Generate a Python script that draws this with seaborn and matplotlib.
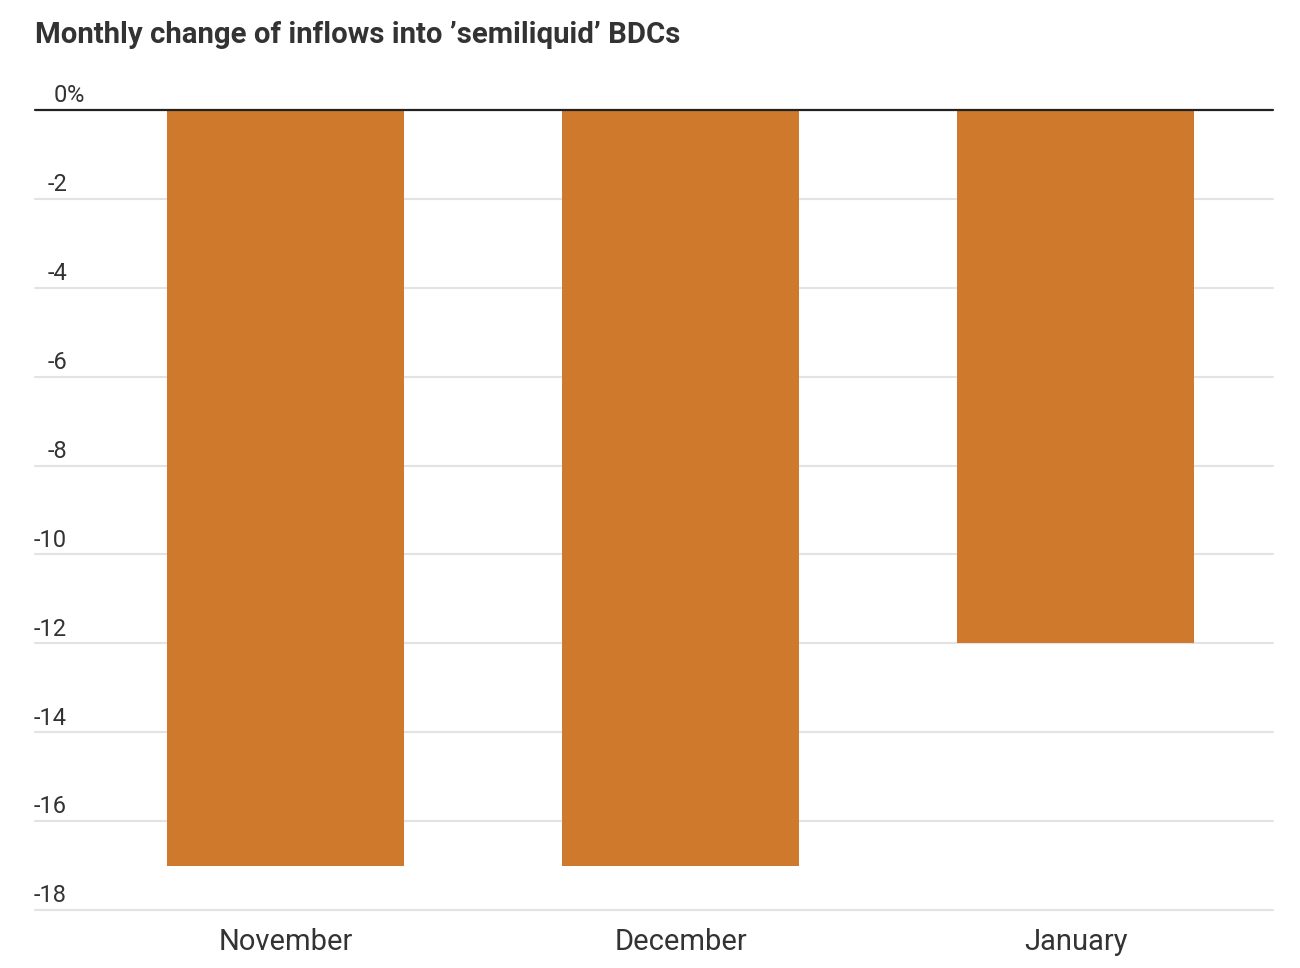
import pandas as pd
import matplotlib.pyplot as plt
import seaborn as sns

# Data
months = ["November", "December", "January"]
change_pct = [-17, -17, -12]
y_ticks = [0, -2, -4, -6, -8, -10, -12, -14, -16, -18]

BAR_COLOR = "#cf792c"
TEXT_COLOR = "#333333"
GRID_COLOR = "#e3e3e3"

W, H = 1300, 968


def main():
    df = pd.DataFrame({"month": months, "change": change_pct})

    sns.set_theme(style="white")
    plt.rcParams["font.family"] = ["Roboto", "DejaVu Sans"]

    fig = plt.figure(figsize=(W / 100, H / 100), dpi=100)
    ax = fig.add_axes([35 / W, 1 - 910 / H, (1273 - 35) / W, (910 - 110) / H])

    sns.barplot(data=df, x="month", y="change", color=BAR_COLOR,
                saturation=1, width=0.6, ax=ax, zorder=3, linewidth=0)

    ax.set_xlim(-0.635, 2.5)
    ax.set_ylim(-18, 0)

    # gridlines
    for t in y_ticks:
        if t == 0:
            ax.axhline(0, color="#222222", lw=1.6, zorder=4, clip_on=False)
        else:
            ax.axhline(t, color=GRID_COLOR, lw=1.5, zorder=1, clip_on=False)

    # y labels sit above their gridline, digits right-aligned
    trans = ax.get_yaxis_transform()
    x_lab = (67 - 35) / (1273 - 35)
    for t in y_ticks:
        ax.text(x_lab, t + 0.06, f"{t}", transform=trans, ha="right", va="bottom",
                fontsize=17, color=TEXT_COLOR)
        if t == 0:
            ax.text(x_lab, t + 0.06, "%", transform=trans, ha="left", va="bottom",
                    fontsize=17, color=TEXT_COLOR)

    ax.set_yticks([])
    ax.set_xlabel("")
    ax.set_ylabel("")
    ax.tick_params(axis="x", length=0, pad=13, labelsize=21, labelcolor=TEXT_COLOR)
    sns.despine(ax=ax, left=True, bottom=True, top=True, right=True)

    fig.text(35 / W, 1 - 35 / H, "Monthly change of inflows into \u2019semiliquid\u2019 BDCs",
             ha="left", va="center", fontsize=21.2, fontweight="bold", color=TEXT_COLOR)

    fig.savefig("out.png", dpi=100, facecolor="white")


if __name__ == "__main__":
    main()
